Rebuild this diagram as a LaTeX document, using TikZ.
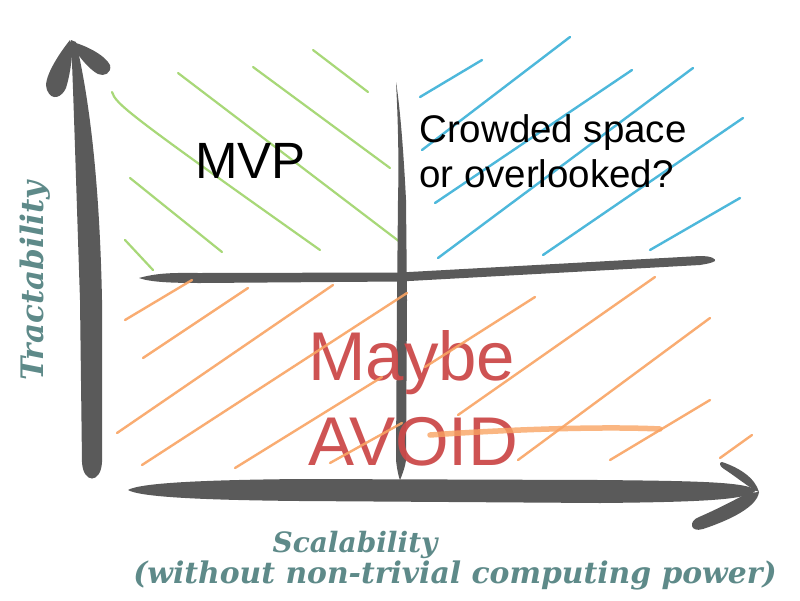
\documentclass[tikz,border=0pt]{standalone}
\usepackage{fontspec}
\setmainfont{Liberation Sans}
\newfontfamily\labelfont{DejaVu Serif}
\definecolor{axisgray}{HTML}{5A5A5A}
\definecolor{hgreen}{HTML}{A8D878}
\definecolor{hblue}{HTML}{4DB8DB}
\definecolor{horange}{HTML}{F9A463}
\definecolor{warnred}{HTML}{CC4A4A}
\definecolor{labelteal}{HTML}{5E8A89}
\begin{document}
\begin{tikzpicture}[x=1pt,y=-1pt,
  brush/.style={fill=axisgray,draw=none},
  hatchg/.style={draw=hgreen,line width=2.2,line cap=round},
  hatchb/.style={draw=hblue,line width=2.4,line cap=round},
  hatcho/.style={draw=horange,line width=2.4,line cap=round},
  quadtext/.style={inner sep=0pt,anchor=base west,text=black},
  warntext/.style={inner sep=0pt,anchor=base west,text=warnred,text opacity=0.95},
  axislabel/.style={inner sep=0pt,anchor=base,text=labelteal}]
\useasboundingbox (0,0) rectangle (800,600);
\fill[white] (0,0) rectangle (800,600);

% green hatching (MVP)
\draw[hatchg] (313,50) -- (368,92);
\draw[hatchg] (253,67) -- (390,168);
\draw[hatchg] (178,73) -- (400,242);
\draw[hatchg] (112,92) .. controls (116,104) and (125,112) .. (320,250);
\draw[hatchg] (130,178) -- (222,252);
\draw[hatchg] (125,240) -- (153,270);

% blue hatching
\draw[hatchb] (420,97) -- (482,60);
\draw[hatchb] (422,150) -- (570,37);
\draw[hatchb] (435,203) -- (632,70);
\draw[hatchb] (438,258) -- (693,68);
\draw[hatchb] (543,255) -- (743,118);
\draw[hatchb] (650,250) -- (740,198);

% axes and quadrant lines
\fill[brush] (71,40) .. controls (73,80) and (76,180) .. (80,300) -- (82,462)
  .. controls (83,484) and (101,484) .. (102,462) -- (102,300)
  .. controls (100,200) and (92,110) .. (76,42) -- cycle;
\fill[brush] (70,40) .. controls (58,55) and (42,80) .. (47,90)
  .. controls (52,102) and (62,97) .. (66,88) .. controls (70,75) and (73,55) .. (72,45) -- cycle;
\fill[brush] (72,42) .. controls (85,45) and (105,55) .. (110,65)
  .. controls (112,73) and (104,77) .. (98,74) .. controls (90,70) and (80,58) .. (75,50) -- cycle;

\fill[brush] (128,490) .. controls (140,483) and (200,480) .. (300,479) -- (600,480)
  .. controls (700,481) and (745,482) .. (756,490) .. controls (750,500) and (700,502) .. (600,503)
  -- (300,501) .. controls (200,500) and (140,497) .. (128,490) -- cycle;
\fill[brush] (722,462) .. controls (740,468) and (755,478) .. (759,492)
  .. controls (752,490) and (738,478) .. (724,469) .. controls (719,466) and (719,462) .. (722,462) -- cycle;
\fill[brush] (759,492) .. controls (757,507) and (730,520) .. (703,529)
  .. controls (690,533) and (688,521) .. (699,517) .. controls (720,508) and (740,497) .. (748,493) -- cycle;

\fill[brush] (139,278) .. controls (160,272) and (180,273) .. (200,273) -- (400,272.5) -- (700,256)
  .. controls (712,256) and (716,259) .. (715,261) .. controls (712,263) and (706,264) .. (700,265)
  -- (400,281.5) -- (200,283) .. controls (170,283) and (150,282) .. (139,278) -- cycle;
\fill[brush] (396,82) .. controls (398,120) and (399,160) .. (398,200) -- (397,300) -- (396,460)
  .. controls (397,470) and (399,478) .. (400,480) .. controls (402,475) and (405,468) .. (406,460)
  -- (407,300) -- (406,200) .. controls (403,140) and (399,100) .. (396,82) -- cycle;

% quadrant texts
\node[quadtext,font=\fontsize{51}{51}\selectfont] (mvp) at (195,178) {MVP};
\node[quadtext,font=\fontsize{38.5}{38.5}\selectfont] (crowd1) at (419,142) {Crowded space};
\node[quadtext,font=\fontsize{38.5}{38.5}\selectfont] (crowd2) at (419,187) {or overlooked?};
\node[warntext,font=\fontsize{69}{69}\selectfont] (maybe) at (308,380) {Maybe};
\node[warntext,font=\fontsize{69}{69}\selectfont] (avoid) at (308,465) {AVOID};

% orange hatching (over text)
\begin{scope}[opacity=0.9]
\draw[hatcho] (125,320) -- (192,280);
\draw[hatcho] (143,358) -- (248,288);
\draw[hatcho] (117,433) -- (333,285);
\draw[hatcho] (142,465) -- (407,293);
\draw[hatcho] (235,468) -- (382,377);
\draw[hatcho] (330,463) -- (402,423);
\draw[hatcho] (425,367) -- (535,297);
\draw[hatcho] (458,415) -- (655,277);
\draw[hatcho] (518,460) -- (710,318);
\draw[hatcho] (610,460) -- (710,400);
\draw[hatcho] (720,458) -- (752,435);
\draw[horange,line width=5.5,line cap=round,opacity=0.8] (430,435) .. controls (500,430) and (600,426) .. (660,429);
\end{scope}

% axis labels
\node[axislabel,rotate=90,font=\labelfont\bfseries\itshape\fontsize{31}{31}\selectfont] (ylab) at (43,281) {Tractability};
\node[axislabel,font=\labelfont\bfseries\itshape\fontsize{28}{28}\selectfont] (xlab1) at (355,552) {Scalability};
\node[axislabel,font=\labelfont\bfseries\itshape\fontsize{29.8}{29.8}\selectfont] (xlab2) at (455,583) {(without non-trivial computing power)};
\end{tikzpicture}
\end{document}
